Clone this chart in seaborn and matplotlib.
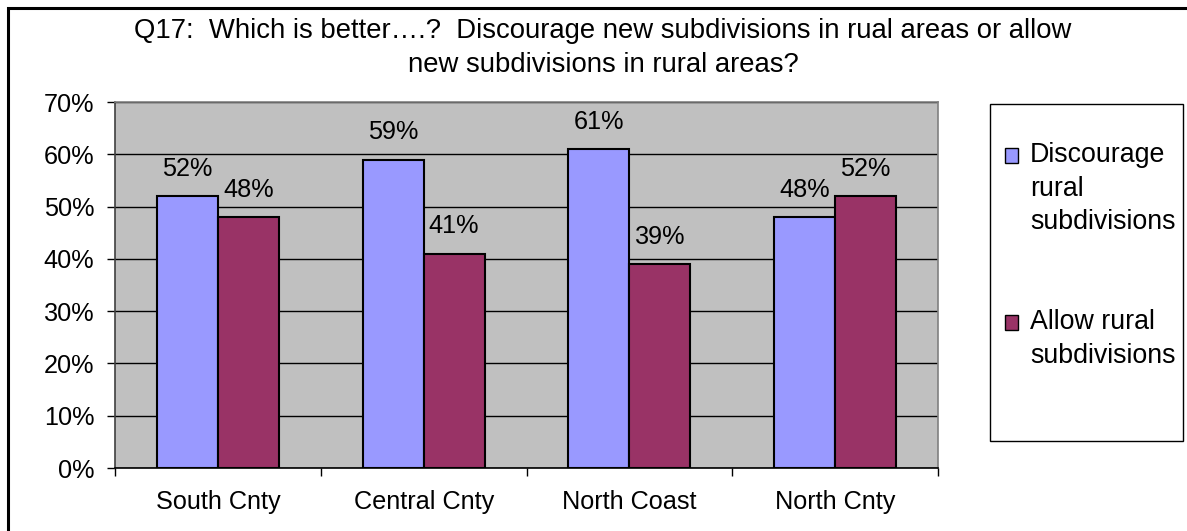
import matplotlib
matplotlib.use("Agg")
import matplotlib.pyplot as plt
from matplotlib.patches import Rectangle
from matplotlib.legend_handler import HandlerPatch
from matplotlib.ticker import FixedLocator
import seaborn as sns
import pandas as pd

# Survey results (percent of respondents)
regions = ["South Cnty", "Central Cnty", "North Coast", "North Cnty"]
choices = ["Discourage\nrural\nsubdivisions", "Allow rural\nsubdivisions"]
discourage = [52, 59, 61, 48]
allow = [48, 41, 39, 52]
y_ticks = [0, 10, 20, 30, 40, 50, 60, 70]
y_tick_labels = ["0%", "10%", "20%", "30%", "40%", "50%", "60%", "70%"]
title = ("Q17:  Which is better\u2026.?  Discourage new subdivisions in rual areas or allow\n"
         "new subdivisions in rural areas?")

df = pd.DataFrame({
    "region": regions * 2,
    "choice": [choices[0]] * len(regions) + [choices[1]] * len(regions),
    "pct": discourage + allow,
})

plt.rcParams["font.family"] = ["Liberation Sans", "DejaVu Sans"]
FS = 18.2
TFS = 19.8
LFS = 19.3

W, H = 1187, 531
fig = plt.figure(figsize=(W / 100, H / 100), dpi=100)
fig.patch.set_facecolor("white")

# plot area in pixel terms
left, right, top, bottom = 115, 938, 102, 468
ax = fig.add_axes([left / W, 1 - bottom / H, (right - left) / W, (bottom - top) / H])
ax.set_facecolor("#C0C0C0")

sns.barplot(data=df, x="region", y="pct", hue="choice", order=regions,
            hue_order=choices, palette=["#9999FF", "#993366"], saturation=1,
            width=0.592, gap=0, edgecolor="black", linewidth=1.5,
            legend=False, ax=ax, zorder=3)

ax.set_xlim(-0.5, len(regions) - 0.5)
ax.set_ylim(0, 70)
ax.set_yticks(y_ticks)
ax.set_yticklabels(y_tick_labels, fontsize=FS)
ax.yaxis.grid(True, color="black", linewidth=1, zorder=1)
ax.set_axisbelow(True)
ax.tick_params(axis="y", direction="out", length=5.8, width=1, pad=9, colors="black")

ax.set_xlabel("")
ax.set_ylabel("")
ax.tick_params(axis="x", which="major", length=0, pad=16, labelsize=FS)
ax.xaxis.set_minor_locator(FixedLocator([i - 0.5 for i in range(len(regions) + 1)]))
ax.tick_params(axis="x", which="minor", direction="out", length=5.8, width=1, color="black")

for side in ["top", "right"]:
    ax.spines[side].set_color("#808080")
    ax.spines[side].set_linewidth(1.2)
ax.spines["left"].set_color("#404040")
ax.spines["bottom"].set_color("black")
ax.spines["left"].set_linewidth(1.2)
ax.spines["bottom"].set_linewidth(1.2)

# value labels on each bar
for cont, vals in zip(ax.containers, [discourage, allow]):
    ax.bar_label(cont, labels=[f"{v}%" for v in vals], padding=11, fontsize=FS)

fig.text(0.508, 1 - 18 / H, title, ha="center", va="top", fontsize=TFS,
         linespacing=1.42)

# outer chart border
fig.patches.append(Rectangle((7.5 / W, -0.2), 1.2, 1.2 - 8 / H, transform=fig.transFigure,
                             fill=False, edgecolor="black", linewidth=2.2, zorder=-2))

# legend box
fig.patches.append(Rectangle((990 / W, 1 - 441 / H), 193 / W, 337 / H,
                             transform=fig.transFigure, facecolor="white",
                             edgecolor="black", linewidth=1, zorder=-1))


def square_patch(legend, orig_handle, xdescent, ydescent, width, height, fontsize):
    return Rectangle((-xdescent, -ydescent - 4.5), width, height)


handles = [c.patches[0] for c in ax.containers]
leg = ax.legend(handles=handles, labels=choices, loc="upper left",
                bbox_to_anchor=(1005 / W, 1 - 142 / H), bbox_transform=fig.transFigure,
                frameon=False, fontsize=LFS, handlelength=0.47, handleheight=0.47,
                handletextpad=0.46, labelspacing=2.75, borderpad=0, borderaxespad=0,
                handler_map={Rectangle: HandlerPatch(patch_func=square_patch)})
for t in leg.get_texts():
    t.set_linespacing(1.38)
for col in leg._legend_handle_box.get_children():
    for item in col.get_children():
        item.align = "top"
for h in leg.legend_handles:
    h.set_linewidth(1)

fig.savefig("out.png", dpi=100)
